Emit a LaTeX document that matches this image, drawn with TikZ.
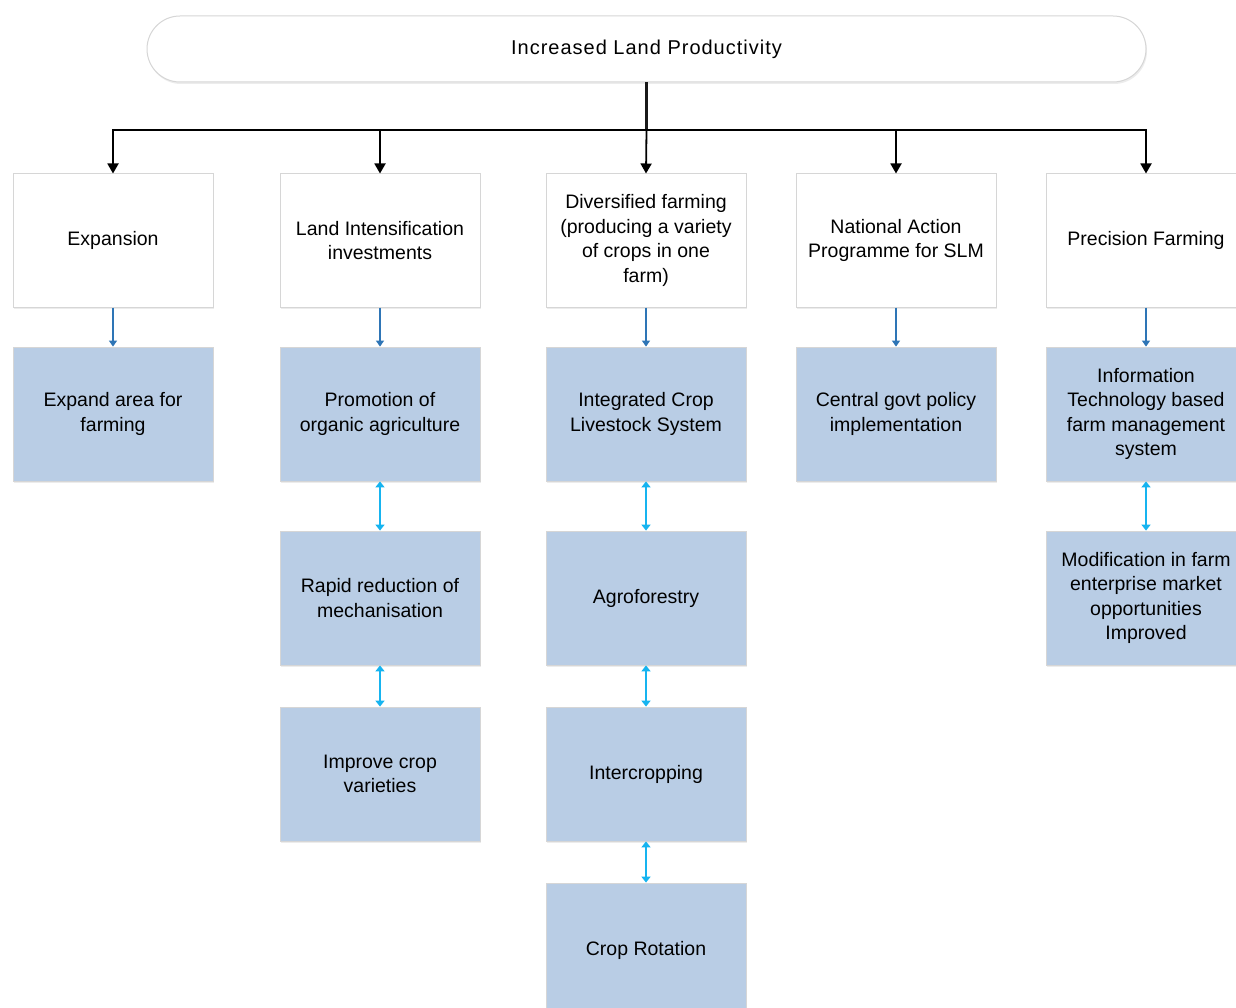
\documentclass[tikz,border=0pt]{standalone}
\usepackage{fontspec}
\setmainfont{Liberation Sans}
\usetikzlibrary{arrows.meta,shadows}
\definecolor{boxfill}{HTML}{B9CDE5}
\definecolor{boxline}{HTML}{D6D6D6}
\definecolor{darkarrow}{HTML}{2E75B6}
\definecolor{lightarrow}{HTML}{16B4F0}
\tikzset{
  boxfont/.style={font=\fontsize{19.5}{24.5}\selectfont},
  headbox/.style={draw=boxline, line width=1pt, fill=white, minimum width=200pt, minimum height=133pt, align=center, boxfont, inner sep=2pt, drop shadow={shadow xshift=1pt, shadow yshift=-2pt, fill=black!12, opacity=0.6}},
  subbox/.style={draw=boxline, line width=0.8pt, fill=boxfill, minimum width=200pt, minimum height=134pt, align=center, boxfont, inner sep=2pt, drop shadow={shadow xshift=1pt, shadow yshift=-2pt, fill=black!12, opacity=0.6}},
  topbox/.style={draw=boxline, line width=1pt, fill=white, rounded corners=33pt, minimum width=999pt, minimum height=66pt, font=\fontsize{20}{24.5}\selectfont\addfontfeatures{LetterSpace=5}, drop shadow={shadow xshift=1pt, shadow yshift=-2pt, fill=black!12, opacity=0.6}},
  blackarrow/.style={draw=black, line width=1.8pt, -{Triangle[width=11pt,length=10pt]}},
  downarrow/.style={draw=darkarrow, line width=1.2pt, -{Triangle[width=8pt,length=6pt]}},
  twoway/.style={draw=lightarrow, line width=1.6pt, {Triangle[width=9pt,length=6pt]}-{Triangle[width=9pt,length=6pt]}},
}
\begin{document}
\begin{tikzpicture}[x=1pt,y=-1pt]
\useasboundingbox (0,0) rectangle (1236,1008);
\fill[white] (0,0) rectangle (1236,1008);

\node[topbox] (top) at (646.5,49) {Increased Land Productivity};

% row 1
\node[headbox] (h1) at (113,240.5) {Expansion};
\node[headbox] (h2) at (380,240.5) {Land Intensification\\investments};
\node[headbox] (h3) at (646,240.5) {Diversified farming\\(producing a variety\\of crops in one\\farm)};
\node[headbox] (h4) at (896,240.5) {National Action\\Programme for SLM};
\node[headbox] (h5) at (1146,240.5) {Precision Farming};

% row 2
\node[subbox] (a1) at (113,414) {Expand area for\\farming};
\node[subbox] (b1) at (380,414) {Promotion of\\organic agriculture};
\node[subbox] (c1) at (646,414) {Integrated Crop\\Livestock System};
\node[subbox] (d1) at (896,414) {Central govt policy\\implementation};
\node[subbox] (e1) at (1146,414) {Information\\Technology based\\farm management\\system};

% row 3
\node[subbox] (b2) at (380,598) {Rapid reduction of\\mechanisation};
\node[subbox] (c2) at (646,598) {Agroforestry};
\node[subbox] (e2) at (1146,598) {Modification in farm\\enterprise market\\opportunities\\Improved};

% row 4
\node[subbox] (b3) at (380,774) {Improve crop\\varieties};
\node[subbox] (c3) at (646,774) {Intercropping};

% row 5
\node[subbox] (c4) at (646,950) {Crop Rotation};

% black tree connectors
\coordinate (junction) at (646.5,130);
\draw[line width=2.6pt, draw=black!90] (top.south) -- (junction);
\draw[blackarrow] (junction) -| (h1.north);
\draw[blackarrow] (junction) -| (h2.north);
\draw[blackarrow] (junction) -- (h3.north);
\draw[blackarrow] (junction) -| (h4.north);
\draw[blackarrow] (junction) -| (h5.north);

% blue downward arrows
\draw[downarrow] (h1.south) -- (a1.north);
\draw[downarrow] (h2.south) -- (b1.north);
\draw[downarrow] (h3.south) -- (c1.north);
\draw[downarrow] (h4.south) -- (d1.north);
\draw[downarrow] (h5.south) -- (e1.north);

% two-way arrows
\draw[twoway] (b1.south) -- (b2.north);
\draw[twoway] (b2.south) -- (b3.north);
\draw[twoway] (c1.south) -- (c2.north);
\draw[twoway] (c2.south) -- (c3.north);
\draw[twoway] (c3.south) -- (c4.north);
\draw[twoway] (e1.south) -- (e2.north);
\end{tikzpicture}
\end{document}
